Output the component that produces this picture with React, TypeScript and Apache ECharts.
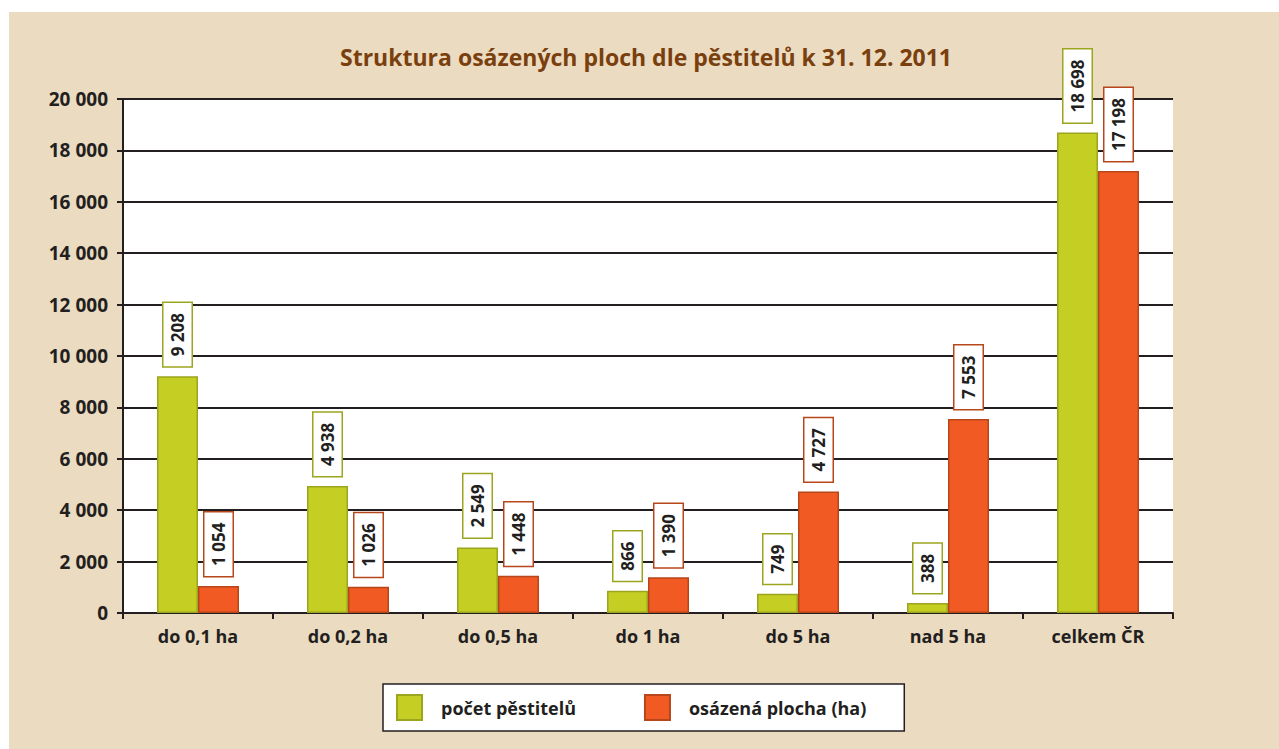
import React, { useEffect, useRef } from "react";
import * as echarts from "echarts";

const categories = ["do 0,1 ha", "do 0,2 ha", "do 0,5 ha", "do 1 ha", "do 5 ha", "nad 5 ha", "celkem ČR"];
const growers = [9208, 4938, 2549, 866, 749, 388, 18698];
const area = [1054, 1026, 1448, 1390, 4727, 7553, 17198];
const seriesNames = ["počet pěstitelů", "osázená plocha (ha)"];
const titleText = "Struktura osázených ploch dle pěstitelů k 31. 12. 2011";

const FONT = "Open Sans";
const fmt = (v: number) => String(v).replace(/\B(?=(\d{3})+(?!\d))/g, " ");

export default function App() {
  const ref = useRef<HTMLDivElement>(null);
  useEffect(() => {
    if (!ref.current) return;
    const chart = echarts.init(ref.current, undefined, { renderer: "svg" });
    const label = (border: string) => ({
      show: true,
      position: "top",
      rotate: 90,
      align: "left",
      verticalAlign: "middle",
      distance: 10,
      formatter: (p: any) => fmt(p.value),
      fontFamily: FONT,
      fontWeight: "bold",
      fontSize: 17,
      lineHeight: 20,
      color: "#231F20",
      backgroundColor: "#ffffff",
      borderColor: border,
      borderWidth: 1.5,
      padding: [4, 10, 4, 10],
    });
    chart.setOption({
      animation: false,
      backgroundColor: "#ffffff",
      graphic: [
        {
          type: "rect",
          z: -10,
          silent: true,
          shape: { x: 9, y: 12, width: 1270, height: 737 },
          style: { fill: "#EBDBC0" },
        },
      ],
      title: {
        text: titleText,
        left: 641,
        textAlign: "center",
        top: 40,
        textStyle: {
          fontFamily: FONT,
          fontWeight: "bold",
          fontSize: 23,
          color: "#7A3F0E",
        },
      },
      grid: {
        left: 123,
        right: 106,
        top: 99,
        bottom: 136,
        show: true,
        backgroundColor: "#ffffff",
        borderWidth: 0,
      },
      legend: {
        left: 383,
        top: 684,
        itemWidth: 25,
        itemHeight: 25,
        itemGap: 68,
        icon: "rect",
        padding: [10, 38, 10, 13],
        backgroundColor: "#ffffff",
        borderColor: "#231F20",
        borderWidth: 1.5,
        borderRadius: 0,
        textStyle: {
          fontFamily: FONT,
          fontWeight: "bold",
          fontSize: 18,
          color: "#231F20",
          padding: [0, 0, 0, 14],
        },
        data: seriesNames,
      },
      xAxis: {
        type: "category",
        data: categories,
        axisLine: { show: true, lineStyle: { color: "#231F20", width: 2 } },
        axisTick: { show: true, length: 6, lineStyle: { color: "#231F20", width: 2 } },
        axisLabel: {
          fontFamily: FONT,
          fontWeight: "bold",
          fontSize: 18,
          color: "#231F20",
          margin: 14,
        },
      },
      yAxis: {
        type: "value",
        min: 0,
        max: 20000,
        interval: 2000,
        axisLine: { show: true, lineStyle: { color: "#231F20", width: 2 } },
        axisTick: { show: true, length: 6, lineStyle: { color: "#231F20", width: 2 } },
        splitLine: { show: true, lineStyle: { color: "#231F20", width: 2 } },
        axisLabel: {
          fontFamily: FONT,
          fontWeight: "bold",
          fontSize: 19,
          color: "#231F20",
          margin: 15,
          formatter: (v: number) => fmt(v),
        },
      },
      series: [
        {
          name: seriesNames[0],
          type: "bar",
          data: growers,
          barWidth: 41,
          barGap: "0%",
          itemStyle: { color: "#C4CE23", borderColor: "#9CA51E", borderWidth: 1.5 },
          label: label("#9CA51E"),
        },
        {
          name: seriesNames[1],
          type: "bar",
          data: area,
          barWidth: 41,
          barGap: "0%",
          itemStyle: { color: "#F15A22", borderColor: "#B8461B", borderWidth: 1.5 },
          label: label("#B8461B"),
        },
      ],
    });
    return () => chart.dispose();
  }, []);
  return (
    <div style={{ position: "absolute", left: 0, top: 0, width: 1279, height: 749 }}>
      <div ref={ref} style={{ width: 1279, height: 749 }} />
    </div>
  );
}
